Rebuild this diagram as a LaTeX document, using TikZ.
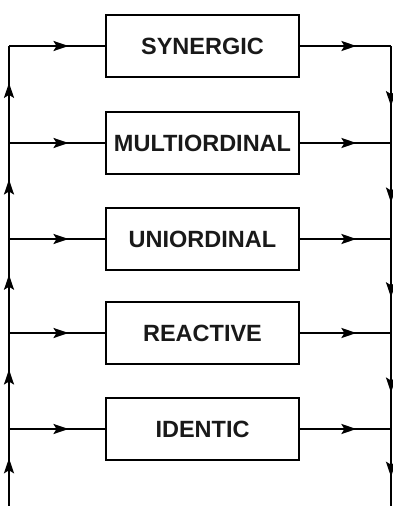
\documentclass[tikz,border=0pt]{standalone}
\usepackage{fontspec}
\setmainfont{Liberation Sans}
\usetikzlibrary{arrows.meta,decorations.markings}
\begin{document}
\begin{tikzpicture}[x=1pt,y=-1pt,
  box/.style={draw=black,line width=2pt,minimum width=193pt,minimum height=62pt,
    inner sep=0pt,font=\fontsize{23.5}{26}\selectfont\bfseries,text=black!90},
  flow/.style={line width=2.2pt,draw=black,
    postaction={decorate,decoration={markings,
      mark=at position 0.62 with {\arrow{Stealth[length=15pt,width=10pt,inset=3pt]}}}}}]
\useasboundingbox (0,0) rectangle (393,506);

% the five boxes
\node[box] (b1) at (202.5,46) {SYNERGIC};
\node[box] (b2) at (202.5,143) {MULTIORDINAL};
\node[box] (b3) at (202.5,239) {UNIORDINAL};
\node[box] (b4) at (202.5,333) {REACTIVE};
\node[box] (b5) at (202.5,429) {IDENTIC};

% left feed line and right collecting line
\coordinate (lbot) at (9,506);
\coordinate (rbot) at (391,506);
\foreach \i/\y in {1/46,2/143,3/239,4/333,5/429}{
  \coordinate (l\i) at (9,\y);
  \coordinate (r\i) at (391,\y);
}

% upward flow on the left
\draw[flow] (lbot) -- (l5);
\draw[flow] (l5) -- (l4);
\draw[flow] (l4) -- (l3);
\draw[flow] (l3) -- (l2);
\draw[flow] (l2) -- (l1);

% downward flow on the right
\draw[flow] (r1) -- (r2);
\draw[flow] (r2) -- (r3);
\draw[flow] (r3) -- (r4);
\draw[flow] (r4) -- (r5);
\draw[flow] (r5) -- (rbot);

% branches into and out of each box
\foreach \i in {1,...,5}{
  \draw[flow] (l\i) -- (b\i.west);
  \draw[flow] (b\i.east) -- (r\i);
}
\end{tikzpicture}
\end{document}
